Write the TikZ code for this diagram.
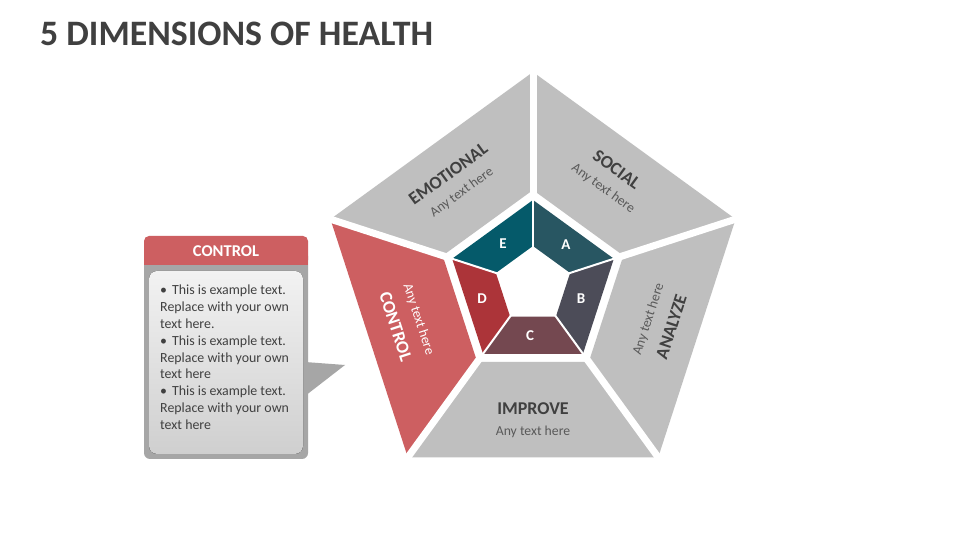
\documentclass[tikz,border=0pt]{standalone}
\usepackage{fontspec}
\setmainfont{Carlito}

\definecolor{textdark}{RGB}{64,64,64}
\definecolor{textsub}{RGB}{89,89,89}
\definecolor{segray}{RGB}{191,191,191}
\definecolor{ctrlred}{RGB}{205,95,97}
\definecolor{frameg}{RGB}{166,166,166}
\definecolor{segA}{RGB}{40,86,98}
\definecolor{segB}{RGB}{76,76,88}
\definecolor{segC}{RGB}{116,72,80}
\definecolor{segD}{RGB}{172,52,57}
\definecolor{segE}{RGB}{5,90,106}

\begin{document}
\begin{tikzpicture}[x=1pt, y=1pt,
    outerseg/.style={fill=segray},
    gapbig/.style={white, line width=7pt},
    gapsmall/.style={white, line width=2pt},
    twoline/.style={align=center, inner sep=0pt, font=\fontsize{18}{21}\selectfont},
    letterlbl/.style={font=\fontsize{15}{17}\selectfont\bfseries, text=white}]
\useasboundingbox (0,0) rectangle (960,540);
\fill[white] (0,0) rectangle (960,540);

\node[anchor=base west, inner sep=0pt, font=\fontsize{35.8}{42}\selectfont\bfseries, text=textdark] (title) at (40,494) {5 DIMENSIONS OF HEALTH};

% outer ring
\begin{scope}[shift={(533,255)}]
\fill[outerseg]  (90:213)  -- (18:213)   -- (18:95)   -- (90:95)   -- cycle;
\fill[outerseg]  (18:213)  -- (-54:213)  -- (-54:95)  -- (18:95)   -- cycle;
\fill[outerseg]  (-54:213) -- (-126:213) -- (-126:95) -- (-54:95)  -- cycle;
\fill[ctrlred]   (-126:213) -- (162:213) -- (162:95)  -- (-126:95) -- cycle;
\fill[outerseg]  (162:213) -- (90:213)   -- (90:95)   -- (162:95)  -- cycle;

\draw[gapbig] (90:88) -- (90:222);
\draw[gapbig] (18:88) -- (18:222);
\draw[gapbig] (-54:88) -- (-54:222);
\draw[gapbig] (-126:88) -- (-126:222);
\draw[gapbig] (162:88) -- (162:222);

% inner ring
\fill[segA] (90:85)   -- (18:85)   -- (18:39)   -- (90:39)   -- cycle;
\fill[segB] (18:85)   -- (-54:85)  -- (-54:39)  -- (18:39)   -- cycle;
\fill[segC] (-54:85)  -- (-126:85) -- (-126:39) -- (-54:39)  -- cycle;
\fill[segD] (-126:85) -- (162:85)  -- (162:39)  -- (-126:39) -- cycle;
\fill[segE] (162:85)  -- (90:85)   -- (90:39)   -- (162:39)  -- cycle;

\draw[gapsmall] (90:37) -- (90:87);
\draw[gapsmall] (18:37) -- (18:87);
\draw[gapsmall] (-54:37) -- (-54:87);
\draw[gapsmall] (-126:37) -- (-126:87);
\draw[gapsmall] (162:37) -- (162:87);
\end{scope}

% segment labels
\node[twoline, rotate=36] (emotional) at (455,357)
  {{\bfseries\color{textdark}EMOTIONAL}\\{\fontsize{13.7}{15}\selectfont\color{textsub}Any text here}};
\node[twoline, rotate=-36] (social) at (610,361)
  {{\bfseries\color{textdark}SOCIAL}\\{\fontsize{13.7}{15}\selectfont\color{textsub}Any text here}};
\node[twoline, rotate=72] (analyze) at (660,217)
  {{\fontsize{13.7}{15}\selectfont\color{textsub}Any text here}\\[5pt]{\bfseries\color{textdark}ANALYZE}};
\node[twoline] (improve) at (533,120)
  {{\bfseries\color{textdark}IMPROVE}\\{\fontsize{13.7}{15}\selectfont\color{textsub}Any text here}};
\node[twoline, rotate=-72] (control) at (407,217)
  {{\fontsize{13.7}{15}\selectfont\color{white}Any text here}\\[5pt]{\bfseries\color{white}CONTROL}};

\node[letterlbl] (lblA) at (566,295) {A};
\node[letterlbl] (lblB) at (581,241) {B};
\node[letterlbl] (lblC) at (530,204) {C};
\node[letterlbl] (lblD) at (482,241) {D};
\node[letterlbl] (lblE) at (503,296) {E};

% callout
\fill[frameg] (305,178) -- (345,175) -- (305,144) -- cycle;
\fill[frameg, rounded corners=6] (144,81) rectangle (308,290);
\fill[ctrlred, rounded corners=5] (144,275) rectangle (308,304);
\fill[ctrlred] (144,275) rectangle (308,285);
\fill[rounded corners=8, top color={rgb,255:red,242;green,242;blue,242}, bottom color={rgb,255:red,207;green,207;blue,207}] (149,86) rectangle (303,269);

\node[font=\fontsize{16.5}{18}\selectfont\bfseries, text=white] (calloutHead) at (226,289) {CONTROL};
\node[anchor=north west, inner sep=0pt, align=left, font=\fontsize{13.9}{16.8}\selectfont, text=textdark] (calloutBody) at (160,255)
  {\textbullet\hspace{5pt}This is example text.\\
   Replace with your own\\
   text here.\\
   \textbullet\hspace{5pt}This is example text.\\
   Replace with your own\\
   text here\\
   \textbullet\hspace{5pt}This is example text.\\
   Replace with your own\\
   text here};
\end{tikzpicture}
\end{document}
